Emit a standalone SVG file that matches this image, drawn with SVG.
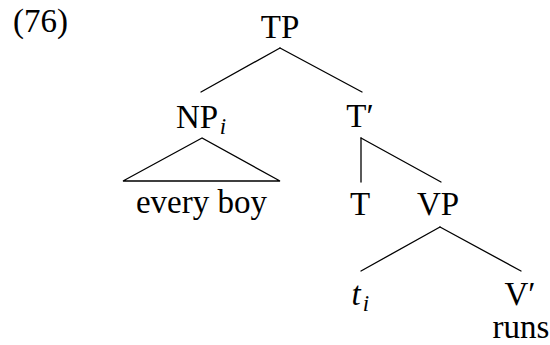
<svg xmlns="http://www.w3.org/2000/svg" width="550" height="345" viewBox="0 0 550 345">
<style>
text{font-family:'Liberation Serif','Times New Roman',serif;font-size:33px;fill:#000;text-anchor:middle}
.it{font-style:italic}
.sub{font-style:italic;font-size:23px}
.c line,.c polygon{stroke:#000;stroke-width:1.3;fill:none;stroke-linecap:round}
</style>
<rect width="550" height="345" fill="#fff"/>
<text x="13" y="32" style="text-anchor:start">(76)</text>
<g class="c" id="connectors">
<line x1="280" y1="48" x2="201" y2="92"/>
<line x1="280" y1="48" x2="362" y2="92"/>
<polygon points="202,138 123,181 280,181"/>
<line x1="361" y1="138" x2="361" y2="182"/>
<line x1="361" y1="138" x2="441" y2="182"/>
<line x1="440" y1="227" x2="361" y2="271"/>
<line x1="440" y1="227" x2="521" y2="271"/>
</g>
<g id="TP"><text x="280" y="38">TP</text></g>
<g id="NP"><text x="197" y="128">NP</text><text class="sub" x="223" y="134">i</text></g>
<g id="Tbar"><text x="360" y="127">T′</text></g>
<g id="everyboy"><text x="201.5" y="213">every boy</text></g>
<g id="T"><text x="360" y="215">T</text></g>
<g id="VP"><text x="438" y="215">VP</text></g>
<g id="ti"><text class="it" x="356" y="305">t</text><text class="sub" x="366" y="311">i</text></g>
<g id="Vbar"><text x="520" y="305">V′</text></g>
<g id="runs"><text x="521" y="338">runs</text></g>
</svg>
